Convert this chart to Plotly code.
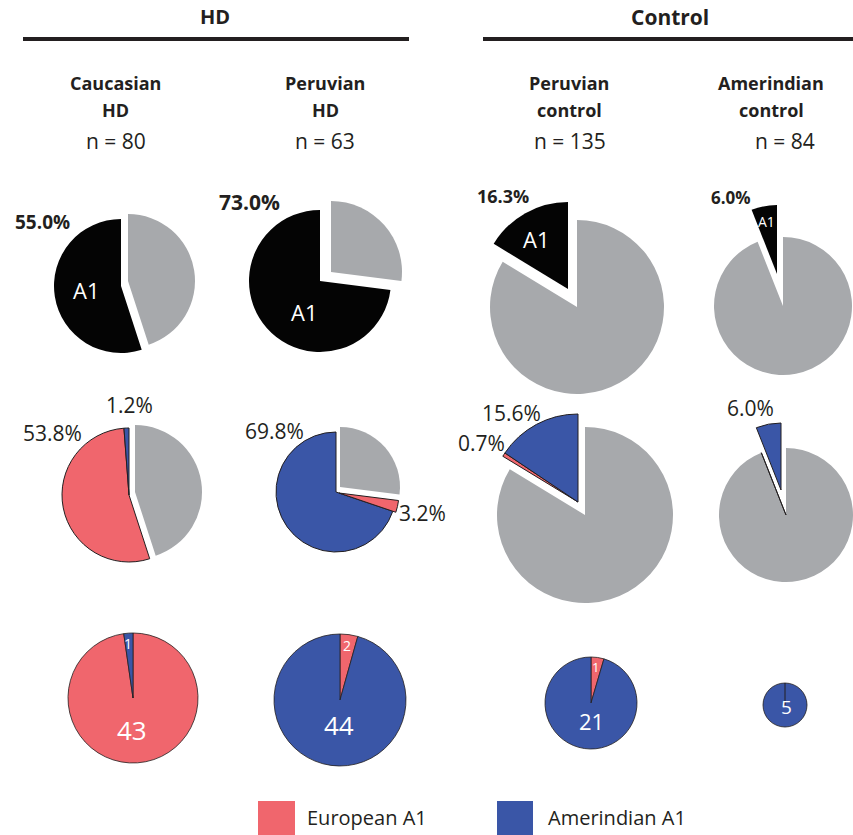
import plotly.graph_objects as go

W, H = 853, 835

# ---------------- data ----------------
group_titles = ["HD", "Control"]
col_line1 = ["Caucasian", "Peruvian", "Peruvian", "Amerindian"]
col_line2 = ["HD", "HD", "control", "control"]
n_total = [80, 63, 135, 84]
a1_pct = [55.0, 73.0, 16.3, 6.0]            # A1 carriers (%)
amerindian_pct = [1.2, 69.8, 15.6, 6.0]     # Amerindian A1 (%)
european_pct = [53.8, 3.2, 0.7, 0.0]        # European A1 (%)
amerindian_n = [1, 44, 21, 5]               # Amerindian A1 counts
european_n = [43, 2, 1, 0]                  # European A1 counts
legend_labels = ["European A1", "Amerindian A1"]

# ---------------- styles ----------------
FONT = "Open Sans"
BLACK = "#040404"
GRAY = "#A7A9AC"
RED = "#F0666D"
BLUE = "#3A56A7"
TXT = "#231F20"
CLEAR = "rgba(0,0,0,0)"

# ---------------- layout config (pixels) ----------------
row1_layout = [
    dict(cx=121, cy=286, r=67, groups=[([0], 0, 0), ([1], 7, -5)]),
    dict(cx=320, cy=281, r=71, groups=[([0], 0, 0), ([1], 11, -9)]),
    dict(cx=577, cy=307, r=87, groups=[([1], 0, 0), ([0], -9, -18)]),
    dict(cx=783, cy=306, r=69, groups=[([1], 0, 0), ([0], -6, -32)]),
]
row2_layout = [
    dict(cx=129, cy=495, r=67, groups=[([0, 1], 0, 0), ([2], 6, -3)]),
    dict(cx=336, cy=492, r=60, groups=[([0], 0, 0), ([1], 3, 1), ([2], 4, -5)]),
    dict(cx=585, cy=515, r=88, groups=[([2], 0, 0), ([0, 1], -7, -13)]),
    dict(cx=786, cy=515, r=67, groups=[([1, 2], 0, 0), ([0], -5, -25)]),
]
row3_layout = [
    dict(cx=133, cy=698, r=65, groups=[([0, 1], 0, 0)]),
    dict(cx=340, cy=700, r=66, groups=[([0, 1], 0, 0)]),
    dict(cx=591, cy=703, r=46, groups=[([0, 1], 0, 0)]),
    dict(cx=785, cy=705, r=22, groups=[([0, 1], 0, 0)]),
]

fig = go.Figure()


def px_x(x):
    return x / W


def px_y(y):
    return 1 - y / H


def add_pie(values, colors, widths, cfg):
    # slices are laid out counterclockwise from 12 o'clock:
    # plotly's clockwise mode with reversed order gives exactly that
    for idx, dx, dy in cfg["groups"]:
        cx, cy, r = cfg["cx"] + dx, cfg["cy"] + dy, cfg["r"]
        cols = [c if i in idx else CLEAR for i, c in enumerate(colors)]
        lws = [w if i in idx else 0 for i, w in enumerate(widths)]
        x0, x1 = max(0.0, px_x(cx - r)), min(1.0, px_x(cx + r))
        y0, y1 = max(0.0, px_y(cy + r)), min(1.0, px_y(cy - r))
        fig.add_trace(go.Pie(
            values=values[::-1], sort=False, direction="clockwise", rotation=0,
            marker=dict(colors=cols[::-1], line=dict(color=TXT, width=lws[::-1])),
            textinfo="none", hoverinfo="skip", showlegend=False,
            domain=dict(x=[x0, x1], y=[y0, y1]),
        ))


for i in range(4):
    add_pie([a1_pct[i], round(100 - a1_pct[i], 1)], [BLACK, GRAY], [0, 0], row1_layout[i])
    other = round(100 - amerindian_pct[i] - european_pct[i], 1)
    add_pie([amerindian_pct[i], european_pct[i], other], [BLUE, RED, GRAY], [1, 1, 0], row2_layout[i])
    add_pie([amerindian_n[i], european_n[i]], [BLUE, RED], [0.8, 0.8], row3_layout[i])

annotations = []


def ann(text, x, y, size, color=TXT, bold=False, xanchor="center"):
    annotations.append(dict(
        text=f"<b>{text}</b>" if bold else text,
        x=px_x(x), y=px_y(y), xref="paper", yref="paper",
        xanchor=xanchor, yanchor="middle", showarrow=False,
        font=dict(family=FONT, size=size, color=color),
    ))


# group titles
ann(group_titles[0], 215, 17, 20, bold=True)
ann(group_titles[1], 670, 17, 21, bold=True)

# column headers
head_x = [115, 325, 569, 771]
n_x = [116, 325, 570, 785]
for i in range(4):
    ann(col_line1[i], head_x[i], 83, 18, bold=True)
    ann(col_line2[i], head_x[i], 110, 18, bold=True)
    ann(f"n = {n_total[i]}", n_x[i], 141, 21)

# row 1 labels
pct1_pos = [(42, 222, 19), (249, 202, 21), (503, 196, 18), (731, 197, 17)]
a1_pos = [(86, 290, 22), (304, 312, 22), (536, 239, 22), (766, 221, 14)]
for i in range(4):
    x, y, s = pct1_pos[i]
    ann(f"{a1_pct[i]:.1f}%", x, y, s, bold=True)
    x, y, s = a1_pos[i]
    ann("A1", x, y, s, color="white")

# row 2 labels
am_pos = [(129, 405), (274, 431), (512, 413), (750, 408)]
eu_pos = [(52, 433), (422, 513), (481, 443), None]
for i in range(4):
    ann(f"{amerindian_pct[i]:.1f}%", am_pos[i][0], am_pos[i][1], 21)
    if european_pct[i] > 0:
        ann(f"{european_pct[i]:.1f}%", eu_pos[i][0], eu_pos[i][1], 21)

# row 3 counts
am_n_pos = [(128, 643, 14), (339, 725, 26), (591, 721, 22), (786, 707, 19)]
eu_n_pos = [(132, 730, 26), (347, 645, 14), (595, 667, 13), None]
for i in range(4):
    x, y, s = am_n_pos[i]
    ann(str(amerindian_n[i]), x, y, s, color="white")
    if european_n[i] > 0:
        x, y, s = eu_n_pos[i]
        ann(str(european_n[i]), x, y, s, color="white")

# legend text
ann(legend_labels[0], 305, 817, 20, xanchor="left")
ann(legend_labels[1], 546, 817, 20, xanchor="left")

shapes = [
    dict(type="line", xref="paper", yref="paper", x0=px_x(23), x1=px_x(409),
         y0=px_y(39), y1=px_y(39), line=dict(color=TXT, width=4)),
    dict(type="line", xref="paper", yref="paper", x0=px_x(483), x1=px_x(853),
         y0=px_y(39), y1=px_y(39), line=dict(color=TXT, width=4)),
    dict(type="rect", xref="paper", yref="paper", x0=px_x(258), x1=px_x(295),
         y0=px_y(845), y1=px_y(801), fillcolor=RED, line=dict(width=0)),
    dict(type="rect", xref="paper", yref="paper", x0=px_x(497), x1=px_x(533),
         y0=px_y(845), y1=px_y(801), fillcolor=BLUE, line=dict(width=0)),
]
# radial divider on the single-slice pie (European count = 0)
c4 = row3_layout[3]
shapes.append(dict(type="line", xref="paper", yref="paper",
                   x0=px_x(c4["cx"]), x1=px_x(c4["cx"]),
                   y0=px_y(c4["cy"]), y1=px_y(c4["cy"] - c4["r"]),
                   line=dict(color=TXT, width=1)))

fig.update_layout(
    width=W, height=H, margin=dict(l=0, r=0, t=0, b=0),
    paper_bgcolor="white", plot_bgcolor="white",
    annotations=annotations, shapes=shapes, showlegend=False,
)

fig.write_html("out.html")
